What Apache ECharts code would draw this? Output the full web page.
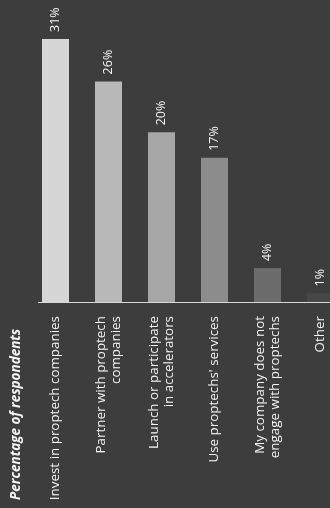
<!DOCTYPE html>
<html>
<head>
<meta charset="utf-8">
<script src="https://cdn.jsdelivr.net/npm/echarts@6/dist/echarts.min.js"></script>
<style>
  html, body { margin: 0; padding: 0; background: #3d3d3d; overflow: hidden; width: 330px; height: 508px; }
  /* the plot runs past the right edge of the frame, so the last column is clipped */
  #chart { width: 347px; height: 508px; }
</style>
</head>
<body>
<div id="chart"></div>
<script>
// Survey answers: how companies engage with proptechs
const categories = [
  'Invest in proptech companies',
  'Partner with proptech\ncompanies',
  'Launch or participate\nin accelerators',
  "Use proptechs' services",
  'My company does not\nengage with proptechs',
  'Other'
];
const shares = [31, 26, 20, 17, 4, 1];
const barColors = ['#d6d6d6', '#b9b9b9', '#a6a6a6', '#8c8c8c', '#6c6c6c', '#474747'];
const titleText = 'Percentage of respondents';

const FONT = '"Open Sans", "DejaVu Sans", sans-serif';
const chart = echarts.init(document.getElementById('chart'));

const BAR_W = 27;

chart.setOption({
  backgroundColor: '#3d3d3d',
  animation: false,
  grid: { left: 29, top: 39, right: 0, bottom: 206 },
  xAxis: {
    type: 'category',
    data: categories,
    axisLine: { show: false },
    axisTick: { show: false },
    axisLabel: {
      rotate: 90,
      interval: 0,
      margin: 14,
      color: '#f4f4f4',
      fontFamily: FONT,
      fontSize: 13.4,
      lineHeight: 15
    }
  },
  yAxis: {
    type: 'value',
    min: 0,
    max: 31,
    show: false,
    splitLine: { show: false }
  },
  series: [{
    type: 'bar',
    barWidth: BAR_W,
    data: shares.map((v, i) => ({ value: v, itemStyle: { color: barColors[i] } })),
    label: {
      show: true,
      position: 'top',
      rotate: 90,
      align: 'left',
      verticalAlign: 'middle',
      distance: 7,
      color: '#f4f4f4',
      fontFamily: FONT,
      fontSize: 12.5,
      formatter: p => p.value + '%'
    }
  }]
});

// Baseline under the bars, starting just left of the first bar
const x0 = chart.convertToPixel({ xAxisIndex: 0 }, categories[0]) - BAR_W / 2 - 4;
const yBase = chart.convertToPixel({ yAxisIndex: 0 }, 0);

chart.setOption({
  graphic: [
    {
      type: 'line',
      shape: { x1: x0, y1: yBase + 0.5, x2: 347, y2: yBase + 0.5 },
      style: { stroke: '#d8d8d8', lineWidth: 1 }
    },
    {
      type: 'text',
      x: 16,
      y: 500,
      rotation: Math.PI / 2,
      style: {
        text: titleText,
        fill: '#f5f5f5',
        font: 'italic bold 13.5px ' + FONT,
        align: 'left',
        verticalAlign: 'middle'
      }
    }
  ]
});
</script>
</body>
</html>
